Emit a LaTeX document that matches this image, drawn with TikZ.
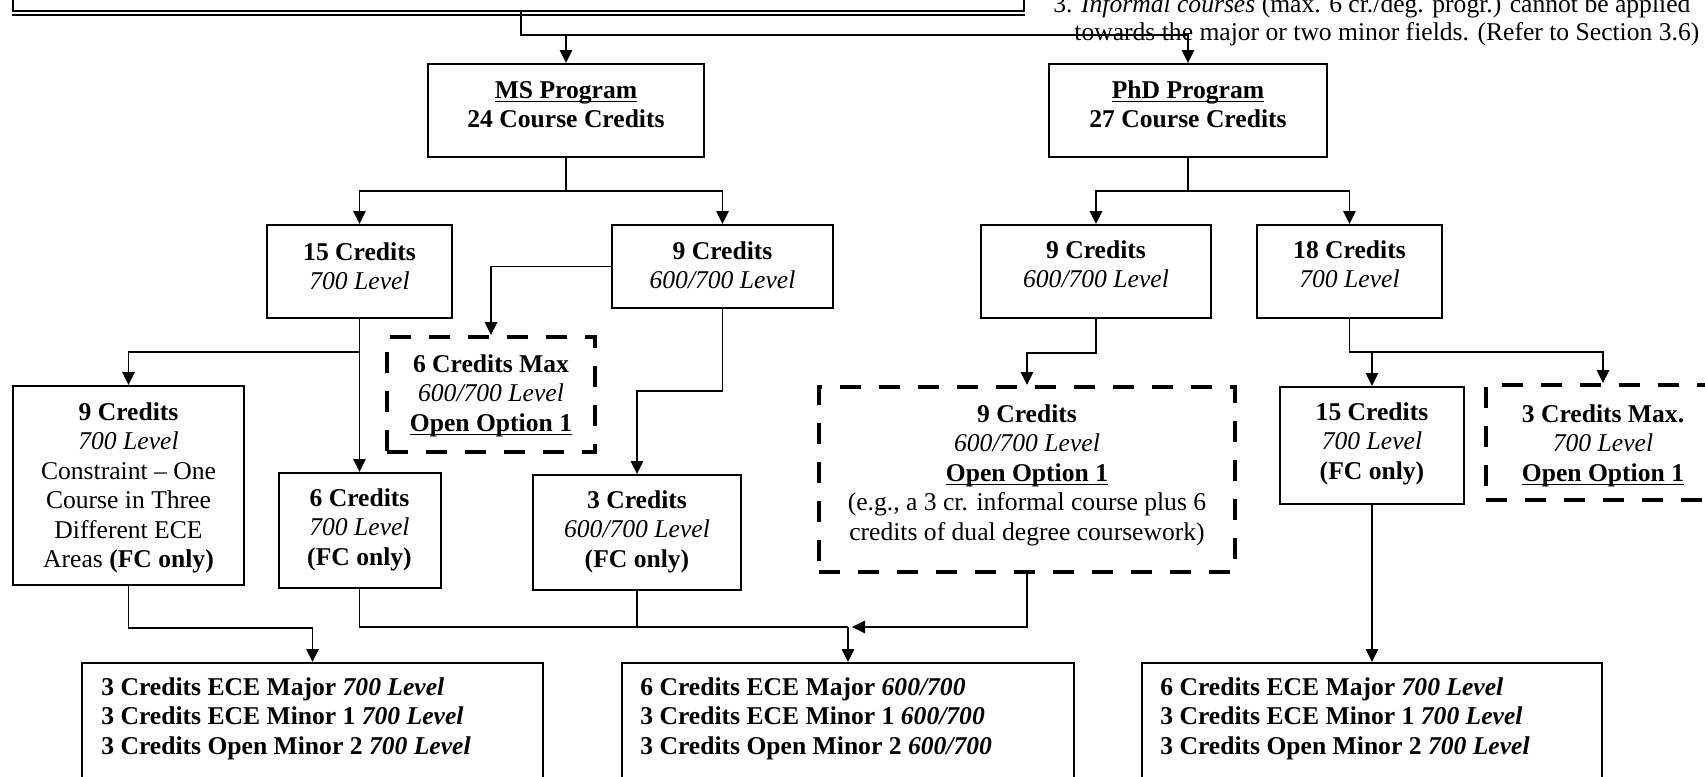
\documentclass[tikz,border=0pt]{standalone}
\usepackage{fontspec}
\setmainfont{Liberation Serif}
\usetikzlibrary{arrows.meta}
\newcommand\uln[1]{\leavevmode\setbox0=\hbox{#1}\rlap{\rule[-1.7pt]{\wd0}{0.65pt}}\box0}
\begin{document}
\begin{tikzpicture}[x=0.5pt,y=-0.5pt,
  box/.style={draw, line width=1pt, inner sep=0pt, rectangle},
  dbox/.style={draw, line width=2pt, dash pattern=on 10.5pt off 9pt, inner sep=0pt, rectangle},
  txt/.style={inner sep=0pt, align=center, anchor=north, font=\fontsize{12.8}{14.75}\selectfont},
  ltxt/.style={inner sep=0pt, align=left, anchor=north west, font=\fontsize{12.8}{14.75}\selectfont},
  conn/.style={line width=0.8pt},
  arr/.style={conn, -{Triangle[length=6.5pt,width=6.2pt]}},
]
\useasboundingbox (0,0) rectangle (1705,777);
\clip (0,0) rectangle (1705,777);

% boxes
\node[box, minimum width=505.5pt, minimum height=25.5pt] (top) at (518.5,-14.5) {};
\draw[line width=1pt] ([yshift=-1.5pt]top.south west) -- ([yshift=-1.5pt]top.south east);
\node[box, minimum width=138pt, minimum height=46.5pt] (ms) at (566,110.5) {};
\node[box, minimum width=139pt, minimum height=46.5pt] (phd) at (1188,110.5) {};
\node[box, minimum width=92.5pt, minimum height=46.5pt] (c15) at (359.5,271.5) {};
\node[box, minimum width=110.5pt, minimum height=41.5pt] (ms9) at (722.5,266.5) {};
\node[dbox, minimum width=104pt, minimum height=57.5pt] (cmax) at (491,394.5) {};
\node[box, minimum width=115.5pt, minimum height=99.5pt] (c9l) at (128.5,485.5) {};
\node[box, minimum width=81pt, minimum height=57.5pt] (c6) at (359.5,530.5) {};
\node[box, minimum width=104pt, minimum height=57.5pt] (c3) at (637,532.5) {};
\node[box, minimum width=115pt, minimum height=46.5pt] (p9) at (1096,271.5) {};
\node[box, minimum width=92.5pt, minimum height=46.5pt] (p18) at (1349.5,271.5) {};
\node[dbox, minimum width=208pt, minimum height=92.5pt] (big) at (1027,479.5) {};
\node[box, minimum width=92pt, minimum height=58.5pt] (p15) at (1372,445.5) {};
\node[dbox, minimum width=117pt, minimum height=57.5pt] (pmax) at (1603,442.5) {};
\node[box, minimum width=230.5pt, minimum height=68.5pt] (bl) at (312.5,731.5) {};
\node[box, minimum width=226pt, minimum height=68.5pt] (bm) at (848,731.5) {};
\node[box, minimum width=230pt, minimum height=68.5pt] (br) at (1372,731.5) {};

% texts
\node[anchor=base west, inner sep=0pt, font=\fontsize{12.8}{14.75}\selectfont] (note1) at (1053,12) {3. \textit{Informal courses} (max. 6 cr./deg. progr.) cannot be applied};
\node[anchor=base west, inner sep=0pt, font=\fontsize{12.8}{14.75}\selectfont] (note2) at (1074,40) {towards the major or two minor fields. (Refer to Section 3.6)};

\node[txt] (ms-t) at (566,77.35) {\strut\uln{\textbf{MS Program}}\\ \textbf{24 Course Credits}};
\node[txt] (phd-t) at (1188,77.35) {\strut\uln{\textbf{PhD Program}}\\ \textbf{27 Course Credits}};
\node[txt] (c15-t) at (359.5,239.35) {\strut\textbf{15 Credits}\\ \textit{700 Level}};
\node[txt] (ms9-t) at (722.5,238.35) {\strut\textbf{9 Credits}\\ \textit{600/700 Level}};
\node[txt] (p9-t) at (1096,237.35) {\strut\textbf{9 Credits}\\ \textit{600/700 Level}};
\node[txt] (p18-t) at (1349.5,237.35) {\strut\textbf{18 Credits}\\ \textit{700 Level}};
\node[txt] (cmax-t) at (491,351.35) {\strut\textbf{6 Credits Max}\\ \textit{600/700 Level}\\ \uln{\textbf{Open Option 1}}};
\node[txt] (c9l-t) at (128.5,399.35) {\strut\textbf{9 Credits}\\ \textit{700 Level}\\ Constraint -- One\\ Course in Three\\ Different ECE\\ Areas \textbf{(FC only)}};
\node[txt] (c6-t) at (359.5,485.35) {\strut\textbf{6 Credits}\\ \textit{700 Level}\\ \textbf{(FC only)}};
\node[txt] (c3-t) at (637,487.35) {\strut\textbf{3 Credits}\\ \textit{600/700 Level}\\ \textbf{(FC only)}};
\node[txt] (big-t) at (1027,401.35) {\strut\textbf{9 Credits}\\ \textit{600/700 Level}\\ \uln{\textbf{Open Option 1}}\\ (e.g., a 3 cr. informal course plus 6\\ credits of dual degree coursework)};
\node[txt] (p15-t) at (1372,399.35) {\strut\textbf{15 Credits}\\ \textit{700 Level}\\ \textbf{(FC only)}};
\node[txt] (pmax-t) at (1603,401.35) {\strut\textbf{3 Credits Max.}\\ \textit{700 Level}\\ \uln{\textbf{Open Option 1}}};
\node[ltxt] (bl-t) at (101,674.35) {\strut\textbf{3 Credits ECE Major \textit{700 Level}}\\ \textbf{3 Credits ECE Minor 1 \textit{700 Level}}\\ \textbf{3 Credits Open Minor 2 \textit{700 Level}}};
\node[ltxt] (bm-t) at (640,674.35) {\strut\textbf{6 Credits ECE Major \textit{600/700}}\\ \textbf{3 Credits ECE Minor 1 \textit{600/700}}\\ \textbf{3 Credits Open Minor 2 \textit{600/700}}};
\node[ltxt] (br-t) at (1160,674.35) {\strut\textbf{6 Credits ECE Major \textit{700 Level}}\\ \textbf{3 Credits ECE Minor 1 \textit{700 Level}}\\ \textbf{3 Credits Open Minor 2 \textit{700 Level}}};

% connectors
\coordinate (tj) at (521,35);
\draw[arr] (top.south -| tj) -- (tj) -| (phd.north);
\draw[arr] (tj -| ms.north) -- (ms.north);

\coordinate (msj) at (566,191);
\draw[conn] (ms.south) -- (msj);
\draw[arr] (msj) -| (c15.north);
\draw[arr] (msj) -| (ms9.north);
\draw[arr] (ms9.west) -| (cmax.north);

\coordinate (c15j) at (359.5,352);
\draw[arr] (c15.south) -- (c15j) -| (c9l.north);
\draw[arr] (c15j) -- (c6.north);

\coordinate (ms9j) at (722.5,391);
\draw[arr] (ms9.south) -- (ms9j) -| (c3.north);

\coordinate (bj) at (848,627);
\draw[arr] (c9l.south) -- ++(0,42) -| (bl.north);
\draw[conn] (c6.south) |- (bj);
\draw[conn] (c3.south) -- (c3.south |- bj);
\draw[arr] (bj) -- (bm.north);
\draw[arr] (big.south) |- ([xshift=2pt]bj);

\coordinate (pj) at (1188,191);
\draw[conn] (phd.south) -- (pj);
\draw[arr] (pj) -| (p9.north);
\draw[arr] (pj) -| (p18.north);
\draw[arr] (p9.south) -- ++(0,34) -| (big.north);
\coordinate (p18j) at (1349.5,352);
\draw[arr] (p18.south) -- (p18j) -| (pmax.north);
\draw[arr] (p18j -| p15.north) -- (p15.north);
\draw[arr] (p15.south) -- (br.north);
\end{tikzpicture}
\end{document}
